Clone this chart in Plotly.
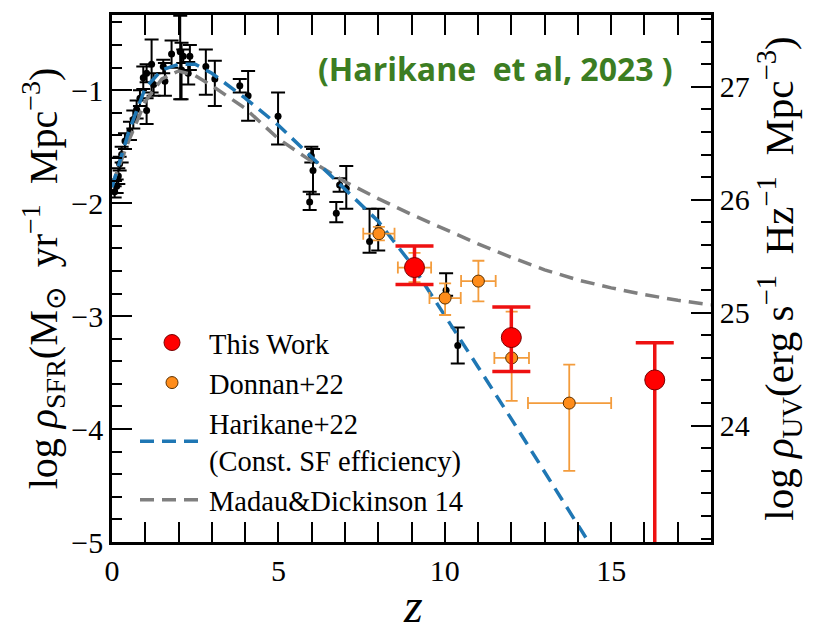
import plotly.graph_objects as go

# ---- data ----
# compilation points (black)
blk_z = [0.08, 0.14, 0.19, 0.23, 0.29, 0.39, 0.54, 0.64, 0.74, 0.84, 0.94, 1.04, 1.04, 1.19, 1.25,
         1.54, 1.59, 1.79, 2.05, 2.09, 2.14, 2.29, 2.34, 2.82, 3.09, 3.84, 4.09, 4.99, 5.99, 6.04,
         5.94, 6.74, 6.84, 7.04, 7.74, 8.00, 10.04, 10.39]
blk_y = [-1.90, -1.85, -1.76, -1.65, -1.57, -1.45, -1.36, -1.26, -1.17, -1.07, -0.89, -1.18, -0.85, -0.77, -0.95,
         -0.79, -0.92, -0.68, -0.66, -0.82, -0.70, -0.85, -0.70, -0.79, -0.90, -0.96, -1.05, -1.23, -1.58, -1.71,
         -1.99, -2.09, -1.84, -1.87, -2.34, -2.22, -2.77, -3.26]
blk_ep = [0.05, 0.06, 0.07, 0.06, 0.07, 0.07, 0.08, 0.08, 0.08, 0.07, 0.10, 0.11, 0.08, 0.22, 0.10,
          0.06, 0.16, 0.12, 0.32, 0.24, 0.06, 0.10, 0.10, 0.15, 0.16, 0.06, 0.22, 0.21, 0.08, 0.19,
          0.09, 0.10, 0.06, 0.20, 0.29, 0.17, 0.15, 0.16]
blk_em = [0.05, 0.06, 0.07, 0.06, 0.07, 0.07, 0.08, 0.08, 0.08, 0.07, 0.10, 0.12, 0.08, 0.25, 0.10,
          0.06, 0.13, 0.12, 0.42, 0.26, 0.06, 0.10, 0.12, 0.25, 0.24, 0.06, 0.22, 0.25, 0.06, 0.21,
          0.07, 0.08, 0.06, 0.18, 0.10, 0.20, 0.05, 0.16]

# Donnan+22 (orange)
don_z = [8.02, 9.09, 10.01, 11.01, 12.01, 13.74]
don_y = [-2.27, -2.57, -2.84, -2.69, -3.37, -3.77]
don_xp = [0.47, 0.50, 0.47, 0.52, 0.52, 1.26]
don_xm = [0.47, 0.50, 0.47, 0.52, 0.52, 1.24]
don_yp = [0.06, 0.13, 0.13, 0.18, 0.41, 0.34]
don_ym = [0.06, 0.13, 0.15, 0.18, 0.38, 0.60]

# This Work (red)
tw_z = [9.09, 12.0, 16.31]
tw_y = [-2.57, -3.19, -3.565]
tw_yp = [0.19, 0.27, 0.33]
tw_ym = [0.15, 0.30, 2.0]

# Harikane+22 constant SF efficiency model (blue dashed)
har_z = [0, 0.5, 1, 1.5, 2, 2.5, 3, 4, 5, 6, 7, 8, 9, 10, 11, 12, 13, 14, 14.6]
har_y = [-1.86, -1.37, -0.98, -0.82, -0.77, -0.77, -0.85, -1.07, -1.31, -1.59, -1.87, -2.16, -2.54,
         -2.99, -3.45, -3.91, -4.38, -4.85, -5.13]

# Madau & Dickinson 14 (grey dashed)
md_z = [0, 0.5, 1, 1.5, 2, 2.5, 3, 3.6, 4, 5, 6, 7, 8, 9, 10, 11, 12, 13, 14, 15, 16, 17, 18]
md_y = [-1.84, -1.45, -1.10, -0.90, -0.83, -0.87, -0.96, -1.08, -1.16, -1.43, -1.63, -1.81, -1.96,
        -2.10, -2.23, -2.36, -2.48, -2.59, -2.68, -2.75, -2.81, -2.86, -2.90]

UV_OFFSET = 27.97
YMIN, YMAX = -5.0, -0.334
XMIN, XMAX = 0, 18

serif = "Liberation Serif"

fig = go.Figure()

fig.add_trace(go.Scatter(
    x=blk_z, y=blk_y, mode="markers", showlegend=False,
    marker=dict(color="black", size=7),
    error_y=dict(type="data", array=blk_ep, arrayminus=blk_em, color="black", thickness=2, width=7),
))

fig.add_trace(go.Scatter(
    x=md_z, y=md_y, mode="lines", name="Madau&Dickinson 14", legendrank=4,
    line=dict(color="#7f7f7f", width=3.5, dash="14px,8px"),
))
fig.add_trace(go.Scatter(
    x=har_z, y=har_y, mode="lines", name="Harikane+22<br>(Const. SF efficiency)", legendrank=3,
    line=dict(color="#1f77b4", width=3.5, dash="14px,8px"),
))

fig.add_trace(go.Scatter(
    x=don_z, y=don_y, mode="markers", name="Donnan+22", legendrank=2,
    marker=dict(color="#ff8c1a", size=12, line=dict(color="#5a3000", width=1)),
    error_x=dict(type="data", array=don_xp, arrayminus=don_xm, color="#f39c3c", thickness=1.8, width=6),
    error_y=dict(type="data", array=don_yp, arrayminus=don_ym, color="#f39c3c", thickness=1.8, width=6),
))

fig.add_trace(go.Scatter(
    x=tw_z, y=tw_y, mode="markers", name="This Work", legendrank=1,
    marker=dict(color="#ff0000", size=20, line=dict(color="#7a0000", width=1)),
    error_y=dict(type="data", array=tw_yp, arrayminus=tw_ym, color="#ee1111", thickness=3.5, width=19),
))

# dummy trace for the right axis
fig.add_trace(go.Scatter(x=[None], y=[None], yaxis="y2", showlegend=False, hoverinfo="skip"))

tickfont = dict(family=serif, size=30, color="black")

fig.update_layout(
    width=823, height=632,
    margin=dict(l=112, r=112, t=12, b=90),
    paper_bgcolor="white", plot_bgcolor="white",
    font=dict(family=serif, color="black"),
    showlegend=True,
    legend=dict(x=0.0384, y=0.426, xanchor="left", yanchor="top",
                font=dict(family=serif, size=28.5, color="black"),
                bgcolor="rgba(0,0,0,0)", borderwidth=0, tracegroupgap=0,
                itemsizing="trace", itemwidth=64),
    xaxis=dict(range=[XMIN, XMAX], tickvals=[0, 5, 10, 15], ticktext=["0", "5", "10", "15"],
               ticks="inside", ticklen=20, tickwidth=2, tickcolor="black",
               showline=True, linecolor="black", linewidth=2.5, mirror="allticks",
               showgrid=False, zeroline=False, tickfont=tickfont,
               minor=dict(dtick=1, ticks="inside", ticklen=10, tickwidth=1.8, tickcolor="black", showgrid=False)),
    yaxis=dict(range=[YMIN, YMAX], tickvals=[-5, -4, -3, -2, -1],
               ticktext=["\u22125", "\u22124", "\u22123", "\u22122", "\u22121"],
               ticks="inside", ticklen=20, tickwidth=2, tickcolor="black",
               showline=True, linecolor="black", linewidth=2.5, mirror=False,
               showgrid=False, zeroline=False, tickfont=tickfont,
               minor=dict(dtick=0.2, ticks="inside", ticklen=10, tickwidth=1.8, tickcolor="black", showgrid=False),
               title=dict(text="log <i>\u03c1</i><sub>SFR</sub>(M<sub>\u2299</sub>  yr<sup>\u22121</sup>  Mpc<sup>\u22123</sup>)",
                          font=dict(family=serif, size=40, color="black"), standoff=2)),
    yaxis2=dict(range=[YMIN + UV_OFFSET, YMAX + UV_OFFSET], overlaying="y", side="right",
                tickvals=[24, 25, 26, 27], ticks="inside", ticklen=20, tickwidth=2, tickcolor="black",
                showline=True, linecolor="black", linewidth=2.5,
                showgrid=False, zeroline=False, tickfont=tickfont,
                minor=dict(dtick=0.2, ticks="inside", ticklen=10, tickwidth=1.8, tickcolor="black", showgrid=False),
                title=dict(text="log <i>\u03c1</i><sub>UV</sub>(erg s<sup>\u22121</sup>  Hz<sup>\u22121</sup>  Mpc<sup>\u22123</sup>)",
                           font=dict(family=serif, size=41, color="black"), standoff=6)),
    annotations=[
        dict(text="<b>(Harikane  et al, 2023 )</b>", x=0.640, y=0.898, xref="paper", yref="paper",
             xanchor="center", yanchor="middle",
             showarrow=False, font=dict(family="Open Sans", size=32, color="#3c7d22")),
        dict(text="<i>z</i>", x=0.5025, y=-0.1208, xref="paper", yref="paper",
             xanchor="center", yanchor="middle",
             showarrow=False, font=dict(family=serif, size=48, color="black")),
    ],
)

fig.write_html("out.html")
